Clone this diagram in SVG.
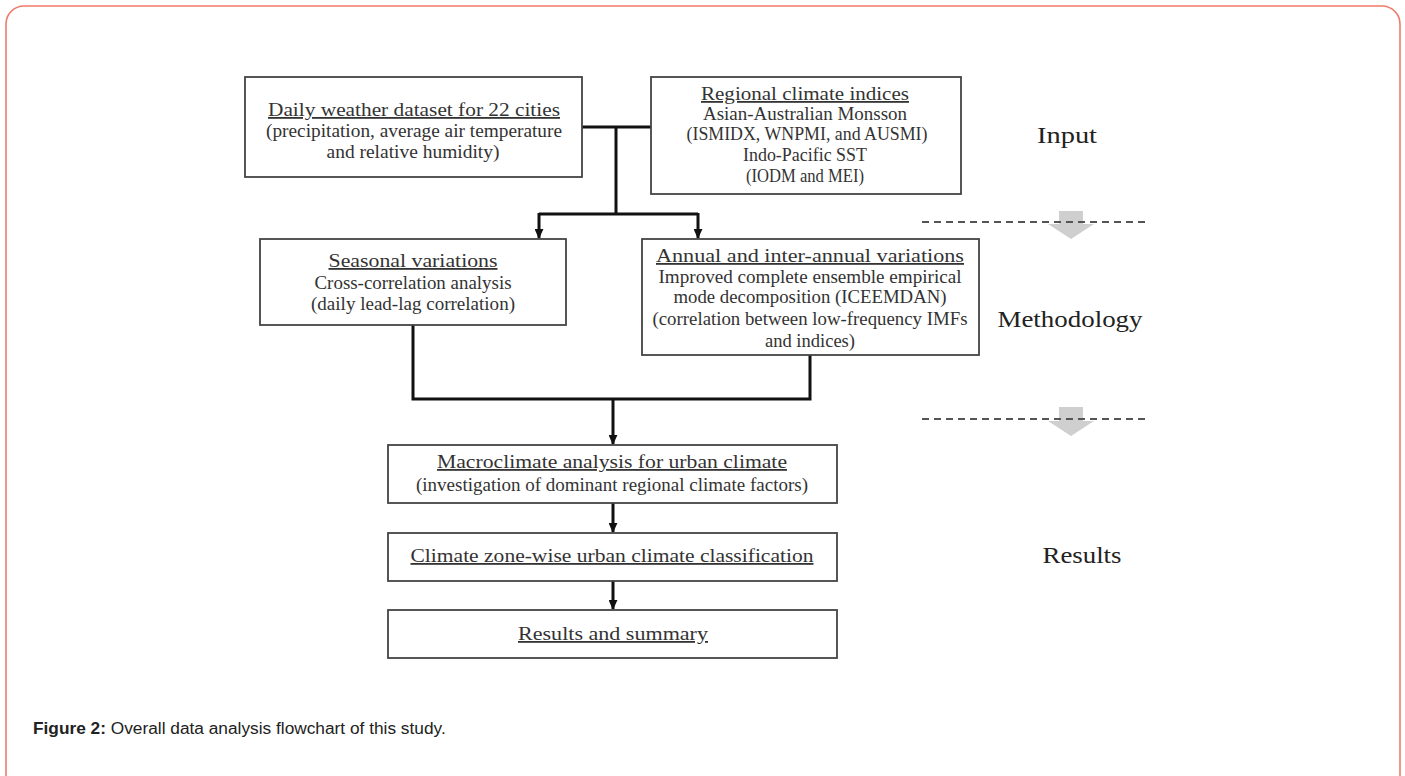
<svg xmlns="http://www.w3.org/2000/svg" width="1405" height="776" viewBox="0 0 1405 776">
<style>
.box{fill:#fff;stroke:#444;stroke-width:1.8}
.t{font-family:"Liberation Serif",serif;font-size:18px;fill:#333;text-anchor:middle}
.u{text-decoration:underline}
.lab{font-family:"Liberation Serif",serif;font-size:24px;fill:#222;text-anchor:middle}
.conn{fill:none;stroke:#111;stroke-width:3}
.dash{stroke:#555;stroke-width:2;stroke-dasharray:7 5;fill:none}
.garrow{fill:#cfcfcf}
</style>
<defs>
<marker id="ah" viewBox="0 0 10 10" refX="9" refY="5" markerWidth="3.4" markerHeight="3" orient="auto" markerUnits="strokeWidth" preserveAspectRatio="none">
<path d="M0,0 L10,5 L0,10 Z" fill="#111"/>
</marker>
</defs>
<rect x="6" y="6" width="1394" height="790" rx="18" fill="#fff" stroke="#f07a68" stroke-width="1.6"/>

<g id="connectors">
<path class="conn" d="M582,127 H651"/>
<path class="conn" d="M616,127 V214"/>
<path class="conn" d="M539,214 H698"/>
<path class="conn" d="M539,213 V238" marker-end="url(#ah)"/>
<path class="conn" d="M698,213 V238" marker-end="url(#ah)"/>
<path class="conn" d="M413,325 V399 H810 V355"/>
<path class="conn" d="M613,399 V444" marker-end="url(#ah)"/>
<path class="conn" d="M613,503 V532" marker-end="url(#ah)"/>
<path class="conn" d="M613,581 V609" marker-end="url(#ah)"/>
</g>

<g id="n-daily">
<rect class="box" x="245" y="77" width="337" height="100"/>
<text class="t u" x="414" y="116" textLength="292" lengthAdjust="spacingAndGlyphs">Daily weather dataset for 22 cities</text>
<text class="t" x="414" y="137" textLength="296" lengthAdjust="spacingAndGlyphs">(precipitation, average air temperature</text>
<text class="t" x="413" y="158" textLength="173" lengthAdjust="spacingAndGlyphs">and relative humidity)</text>
</g>

<g id="n-regional">
<rect class="box" x="651" y="77" width="310" height="117"/>
<text class="t u" x="805" y="100" textLength="208" lengthAdjust="spacingAndGlyphs">Regional climate indices</text>
<text class="t" x="805" y="120" textLength="204" lengthAdjust="spacingAndGlyphs">Asian-Australian Monsson</text>
<text class="t" x="807" y="140" textLength="241" lengthAdjust="spacingAndGlyphs">(ISMIDX, WNPMI, and AUSMI)</text>
<text class="t" x="805" y="161" textLength="124" lengthAdjust="spacingAndGlyphs">Indo-Pacific SST</text>
<text class="t" x="805" y="182" textLength="118" lengthAdjust="spacingAndGlyphs">(IODM and MEI)</text>
</g>

<g id="n-seasonal">
<rect class="box" x="260" y="239" width="306" height="86"/>
<text class="t u" x="413" y="267" textLength="169" lengthAdjust="spacingAndGlyphs">Seasonal variations</text>
<text class="t" x="413" y="289" textLength="197" lengthAdjust="spacingAndGlyphs">Cross-correlation analysis</text>
<text class="t" x="413" y="310" textLength="204" lengthAdjust="spacingAndGlyphs">(daily lead-lag correlation)</text>
</g>

<g id="n-annual">
<rect class="box" x="642" y="239" width="337" height="116"/>
<text class="t u" x="810" y="262" textLength="308" lengthAdjust="spacingAndGlyphs">Annual and inter-annual variations</text>
<text class="t" x="810" y="283" textLength="303" lengthAdjust="spacingAndGlyphs">Improved complete ensemble empirical</text>
<text class="t" x="810" y="303" textLength="273" lengthAdjust="spacingAndGlyphs">mode decomposition (ICEEMDAN)</text>
<text class="t" x="810" y="325" textLength="315" lengthAdjust="spacingAndGlyphs">(correlation between low-frequency IMFs</text>
<text class="t" x="810" y="347" textLength="90" lengthAdjust="spacingAndGlyphs">and indices)</text>
</g>

<g id="n-macro">
<rect class="box" x="388" y="445" width="449" height="58"/>
<text class="t u" x="612" y="468" textLength="350" lengthAdjust="spacingAndGlyphs">Macroclimate analysis for urban climate</text>
<text class="t" x="612" y="491" textLength="392" lengthAdjust="spacingAndGlyphs">(investigation of dominant regional climate factors)</text>
</g>

<g id="n-zone">
<rect class="box" x="388" y="533" width="449" height="48"/>
<text class="t u" x="612" y="562" textLength="403" lengthAdjust="spacingAndGlyphs">Climate zone-wise urban climate classification</text>
</g>

<g id="n-results">
<rect class="box" x="388" y="610" width="449" height="48"/>
<text class="t u" x="613" y="640" textLength="190" lengthAdjust="spacingAndGlyphs">Results and summary</text>
</g>

<g id="stages">
<text class="lab" x="1067" y="143" textLength="60" lengthAdjust="spacingAndGlyphs">Input</text>
<text class="lab" x="1070" y="327" textLength="145" lengthAdjust="spacingAndGlyphs">Methodology</text>
<text class="lab" x="1082" y="563" textLength="79" lengthAdjust="spacingAndGlyphs">Results</text>
<path class="garrow" d="M1059,211 H1083 V224 H1094 L1071,239 L1048,224 H1059 Z"/>
<path class="dash" d="M922,222 H1150"/>
<path class="garrow" d="M1059,407 H1083 V421 H1094 L1071,436 L1048,421 H1059 Z"/>
<path class="dash" d="M922,419 H1150"/>
</g>

<text x="33" y="734" font-family="'Liberation Sans',Arial,sans-serif" font-size="17.3" fill="#222"><tspan font-weight="bold">Figure 2:</tspan> Overall data analysis flowchart of this study.</text>
</svg>
